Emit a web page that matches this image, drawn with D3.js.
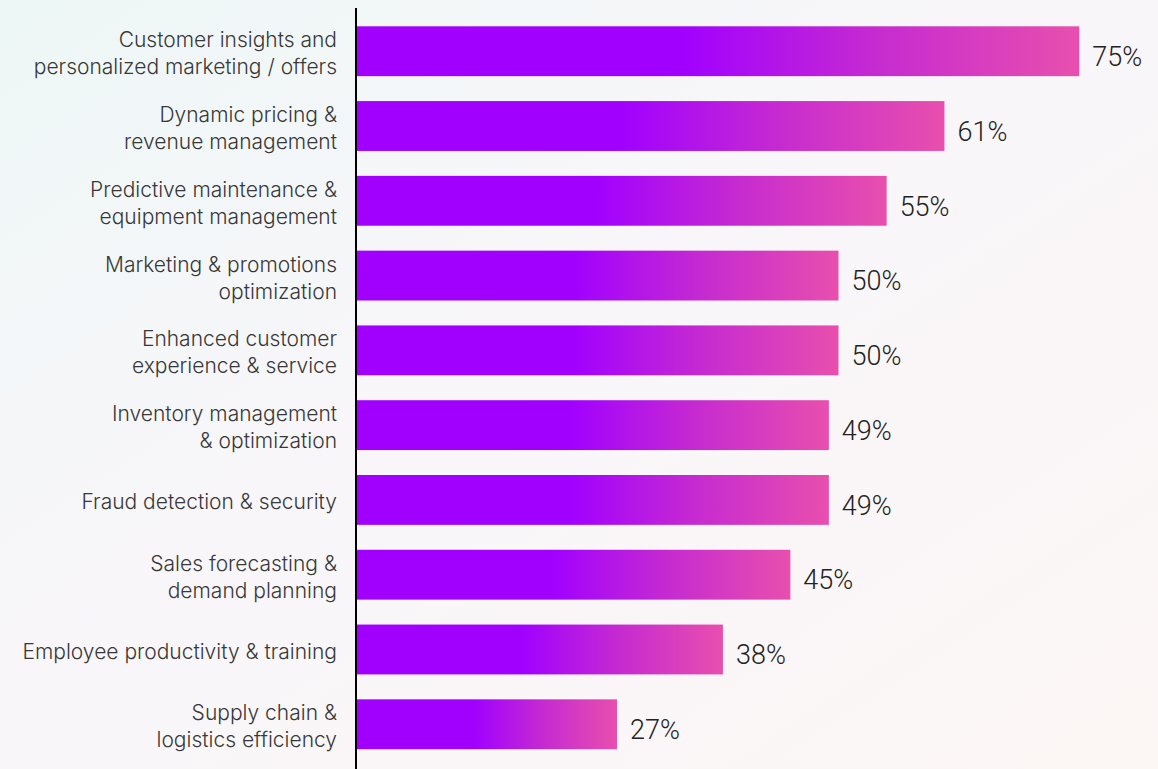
<!DOCTYPE html>
<html>
<head>
<meta charset="utf-8">
<script src="https://cdn.jsdelivr.net/npm/d3@7"></script>
<style>
  html, body { margin: 0; padding: 0; }
  body { width: 1158px; height: 769px; overflow: hidden; }
  svg { display: block; }
</style>
</head>
<body>
<svg id="chart" width="1158" height="769"></svg>
<script>
// Use cases, top to bottom; each entry is the wrapped label lines
const categories = [
  ["Customer insights and", "personalized marketing / offers"],
  ["Dynamic pricing &", "revenue management"],
  ["Predictive maintenance &", "equipment management"],
  ["Marketing & promotions", "optimization"],
  ["Enhanced customer", "experience & service"],
  ["Inventory management", "& optimization"],
  ["Fraud detection & security"],
  ["Sales forecasting &", "demand planning"],
  ["Employee productivity & training"],
  ["Supply chain &", "logistics efficiency"]
];
// Share of respondents (%)
const values = [75, 61, 55, 50, 50, 49, 49, 45, 38, 27];

const W = 1158, H = 769;
const axisX = 357;
const svg = d3.select("#chart");
const defs = svg.append("defs");

// soft page background
const bg = defs.append("linearGradient").attr("id", "bg")
  .attr("x1", "0").attr("y1", "0").attr("x2", "1").attr("y2", "1");
bg.append("stop").attr("offset", "0").attr("stop-color", "#edf7f6");
bg.append("stop").attr("offset", "0.45").attr("stop-color", "#f9f6fa");
bg.append("stop").attr("offset", "1").attr("stop-color", "#fcf7f5");
svg.append("rect").attr("width", W).attr("height", H).attr("fill", "url(#bg)");

// bar fill: solid violet fading to pink toward the end of each bar
const barGrad = defs.append("linearGradient").attr("id", "barGrad")
  .attr("x1", "0").attr("y1", "0").attr("x2", "1").attr("y2", "0");
barGrad.append("stop").attr("offset", "0").attr("stop-color", "#a100ff");
barGrad.append("stop").attr("offset", "0.45").attr("stop-color", "#a100ff");
barGrad.append("stop").attr("offset", "0.72").attr("stop-color", "#c62bd0");
barGrad.append("stop").attr("offset", "1").attr("stop-color", "#e84fad");

const x = d3.scaleLinear().domain([0, 100]).range([axisX, axisX + 963]);
const y = d3.scaleBand().domain(d3.range(values.length))
  .range([0.5, 775]).paddingInner(1/3).paddingOuter(0.345);

const bars = svg.append("g");
bars.selectAll("rect").data(values).join("rect")
  .attr("x", x(0))
  .attr("y", (d, i) => y(i))
  .attr("width", d => x(d) - x(0))
  .attr("height", y.bandwidth())
  .attr("fill", "url(#barGrad)");

// value labels
svg.append("g").selectAll("text").data(values).join("text")
  .attr("x", d => x(d) + 13)
  .attr("y", (d, i) => y(i) + y.bandwidth() / 2 + 5)
  .attr("dy", "0.36em")
  .attr("font-family", "Roboto, Inter, sans-serif")
  .attr("font-weight", 300)
  .attr("font-size", 27)
  .attr("fill", "#222")
  .text(d => d + "%");

// category labels, right aligned against the axis
const lineGap = 27;
const lbl = svg.append("g").selectAll("text").data(categories).join("text")
  .attr("text-anchor", "end")
  .attr("font-family", "Inter, 'Open Sans', sans-serif")
  .attr("font-weight", 300)
  .attr("font-size", 21)
  .attr("fill", "#383838")
  .attr("transform", (d, i) => `translate(${axisX - 20},${y(i) + y.bandwidth() / 2 + 2})`);
lbl.selectAll("tspan").data(d => d.map((t, k) => ({ t, k, n: d.length }))).join("tspan")
  .attr("x", 0)
  .attr("y", d => (d.k - (d.n - 1) / 2) * lineGap)
  .attr("dy", "0.36em")
  .text(d => d.t);

// vertical baseline
svg.append("line")
  .attr("x1", axisX - 1).attr("x2", axisX - 1)
  .attr("y1", 8).attr("y2", H)
  .attr("stroke", "#000").attr("stroke-width", 2);
</script>
</body>
</html>
